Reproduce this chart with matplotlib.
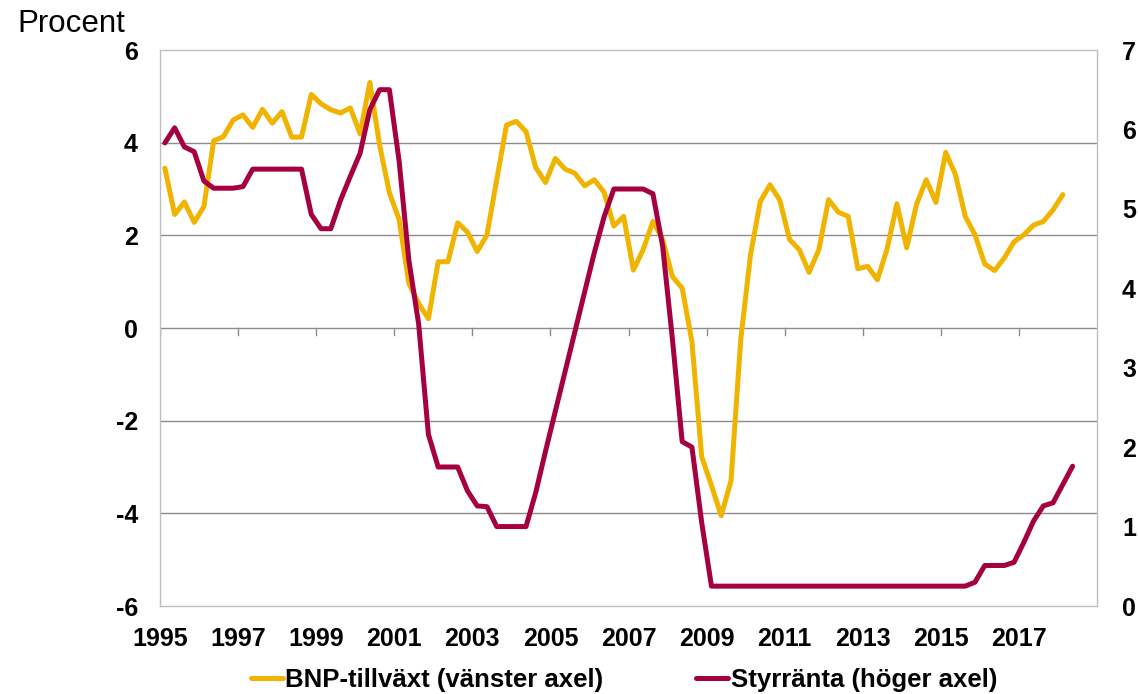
import matplotlib
matplotlib.use('Agg')
import matplotlib.pyplot as plt
import pandas as pd

plt.rcParams['font.family'] = ['Liberation Sans', 'DejaVu Sans']
plt.rcParams['axes.unicode_minus'] = False

# quarterly series, GDP ends 2018Q1, policy rate ends 2018Q2
gdp_quarters = pd.period_range('1995Q1', '2018Q1', freq='Q')
rate_quarters = pd.period_range('1995Q1', '2018Q2', freq='Q')

bnp = [3.45, 2.45, 2.72, 2.28, 2.62, 4.04, 4.13, 4.49, 4.60, 4.33,
       4.72, 4.42, 4.67, 4.12, 4.12, 5.04, 4.84, 4.71, 4.64, 4.75,
       4.19, 5.30, 3.95, 2.92, 2.34, 0.96, 0.53, 0.20, 1.43, 1.43,
       2.27, 2.07, 1.65, 2.01, 3.20, 4.38, 4.46, 4.24, 3.46, 3.14,
       3.66, 3.43, 3.34, 3.07, 3.20, 2.93, 2.20, 2.41, 1.25, 1.69,
       2.30, 1.91, 1.11, 0.86, -0.30, -2.78, -3.40, -4.05, -3.30, -0.25,
       1.58, 2.73, 3.09, 2.76, 1.91, 1.69, 1.20, 1.69, 2.77, 2.50,
       2.41, 1.28, 1.33, 1.04, 1.71, 2.68, 1.73, 2.66, 3.20, 2.71,
       3.79, 3.31, 2.41, 2.01, 1.38, 1.24, 1.51, 1.86, 2.01, 2.22,
       2.30, 2.55, 2.88]

styrranta = [5.83, 6.02, 5.78, 5.72, 5.35, 5.26, 5.26, 5.26, 5.28, 5.50,
             5.50, 5.50, 5.50, 5.50, 5.50, 4.93, 4.75, 4.75, 5.11, 5.41,
             5.70, 6.25, 6.50, 6.50, 5.60, 4.35, 3.55, 2.16, 1.75, 1.75,
             1.75, 1.45, 1.26, 1.25, 1.00, 1.00, 1.00, 1.00, 1.43, 1.95,
             2.45, 2.95, 3.45, 3.95, 4.45, 4.90, 5.25, 5.25, 5.25, 5.25,
             5.19, 4.53, 3.36, 2.07, 2.00, 1.05, 0.25, 0.25, 0.25, 0.25,
             0.25, 0.25, 0.25, 0.25, 0.25, 0.25, 0.25, 0.25, 0.25, 0.25,
             0.25, 0.25, 0.25, 0.25, 0.25, 0.25, 0.25, 0.25, 0.25, 0.25,
             0.25, 0.25, 0.25, 0.30, 0.51, 0.51, 0.51, 0.55, 0.80, 1.07,
             1.26, 1.30, 1.53, 1.76]

year_ticks = list(range(1995, 2018, 2))
left_ticks = [-6, -4, -2, 0, 2, 4, 6]
right_ticks = [0, 1, 2, 3, 4, 5, 6, 7]

labels = ['BNP-tillväxt (vänster axel)', 'Styrränta (höger axel)']
YELLOW = '#F0B400'
RED = '#A50040'
GRID = '#8C8C8C'
BORDER = '#BFBFBF'


def to_x(periods):
    # place each quarter in the middle of its slot
    return [p.year + (p.quarter - 0.5) / 4 for p in periods]


fig = plt.figure(figsize=(11.38, 6.94), dpi=100)
ax = fig.add_axes([160 / 1138, 1 - 606 / 694, 937 / 1138, 556 / 694])
ax2 = ax.twinx()

for v in left_ticks[1:-1]:
    ax.axhline(v, color=GRID, lw=1, zorder=0)
# small tick marks sit on the zero line
for yr in year_ticks:
    ax.plot([yr, yr], [0, -0.15], color=GRID, lw=1, zorder=0)

l1, = ax.plot(to_x(gdp_quarters), bnp, color=YELLOW, lw=3.6,
              solid_joinstyle='round', solid_capstyle='round')
l2, = ax2.plot(to_x(rate_quarters), styrranta, color=RED, lw=3.6,
               solid_joinstyle='round', solid_capstyle='round')

ax.set_xlim(1995, 2019)
ax.set_ylim(-6, 6)
ax2.set_ylim(0, 7)
ax.set_xticks(year_ticks)
ax.set_yticks(left_ticks)
ax2.set_yticks(right_ticks)

for a in (ax, ax2):
    for lab in a.get_xticklabels() + a.get_yticklabels():
        lab.set_fontweight('bold')
        lab.set_fontsize(18)
ax.tick_params(axis='x', length=0, pad=15)
ax.tick_params(axis='y', length=0, pad=16)
ax2.tick_params(axis='y', length=0, pad=18)

for s in ax.spines.values():
    s.set_color(BORDER)
    s.set_linewidth(1)
for s in ax2.spines.values():
    s.set_visible(False)

fig.text(17 / 1138, 1 - 24 / 694, 'Procent', fontsize=22.5, ha='left', va='center')

fig.legend([l1, l2], labels, loc='center', bbox_to_anchor=(624 / 1138, 1 - 680 / 694),
           ncol=2, frameon=False, prop={'weight': 'bold', 'size': 18.5},
           handlelength=1.25, handletextpad=0.1, columnspacing=3.6)

fig.savefig('out.png', dpi=100)
